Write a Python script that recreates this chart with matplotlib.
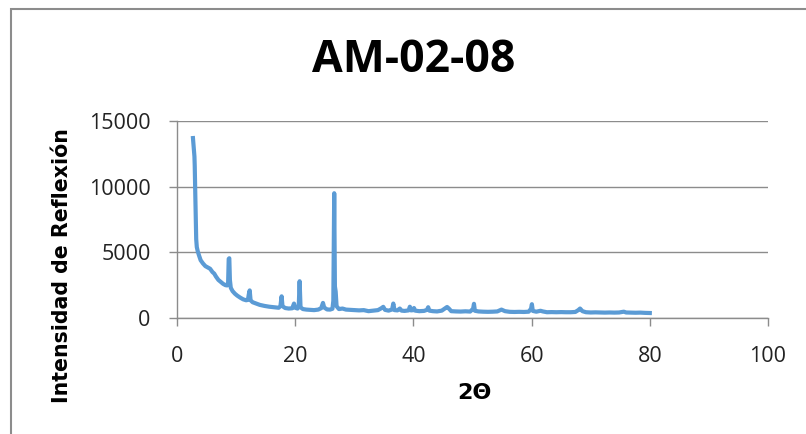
import matplotlib
matplotlib.use("Agg")
import matplotlib.pyplot as plt
from matplotlib.patches import Rectangle

# 2-theta (degrees) and intensity values
two_theta = [2.7, 2.75, 2.85, 2.95, 3.0, 3.05, 3.1, 3.15, 3.2, 3.25, 3.35, 3.5, 3.7, 4.0,
             4.4, 4.8, 5.2, 5.6, 6.0, 6.3, 6.6, 7.0, 7.4, 7.8, 8.2, 8.5, 8.65, 8.75, 8.85,
             8.95, 9.1, 9.4, 9.8, 10.2, 10.7, 11.2, 11.7, 12.0, 12.15, 12.3, 12.45, 12.8,
             13.4, 14.0, 14.8, 15.6, 16.4, 17.2, 17.5, 17.7, 17.85, 18.3, 18.9, 19.5, 19.8,
             20.0, 20.4, 20.6, 20.75, 20.9, 21.3, 21.9, 22.5, 23.2, 23.9, 24.4, 24.7, 24.9,
             25.4, 25.9, 26.3, 26.45, 26.6, 26.72, 26.85, 27.0, 27.4, 28.0, 28.6, 29.3, 30.0,
             30.8, 31.6, 32.4, 33.2, 34.0, 34.6, 34.9, 35.2, 35.8, 36.4, 36.6, 36.8, 37.3,
             37.7, 38.0, 38.5, 39.2, 39.4, 39.6, 40.0, 40.1, 40.3, 41.0, 41.8, 42.3, 42.5,
             42.7, 43.3, 44.0, 44.8, 45.3, 45.7, 46.0, 46.4, 47.2, 48.0, 48.8, 49.6, 50.1,
             50.25, 50.4, 51.0, 51.8, 52.6, 53.4, 54.2, 54.9, 55.5, 56.3, 57.1, 57.9, 58.7,
             59.5, 59.9, 60.05, 60.2, 60.8, 61.5, 61.9, 62.6, 63.4, 64.2, 65.0, 65.8, 66.6,
             67.4, 67.9, 68.2, 68.6, 69.2, 70.0, 70.8, 71.6, 72.4, 73.2, 74.0, 74.8, 75.6,
             76.0, 76.8, 77.6, 78.4, 79.2, 80.0]
intensity = [13700, 13400, 12800, 12300, 11600, 10600, 9300, 8200, 7000, 6000, 5400, 5100,
             4800, 4400, 4150, 3950, 3850, 3750, 3500, 3380, 3150, 2900, 2750, 2600, 2500,
             2480, 2700, 4500, 4550, 2900, 2300, 2050, 1850, 1700, 1550, 1420, 1350, 1380,
             1800, 2100, 1350, 1200, 1100, 1000, 920, 860, 820, 780, 900, 1650, 900, 760,
             720, 740, 1100, 780, 720, 900, 2800, 820, 680, 640, 620, 600, 640, 750, 1150,
             800, 650, 640, 700, 1300, 9500, 2400, 2000, 900, 680, 720, 640, 620, 600, 580,
             600, 520, 560, 600, 750, 850, 620, 560, 650, 1100, 600, 580, 720, 560, 540, 580,
             860, 580, 600, 760, 560, 520, 540, 620, 820, 560, 520, 500, 560, 720, 840, 720,
             520, 500, 490, 510, 490, 700, 1080, 550, 500, 480, 470, 480, 500, 640, 520, 470,
             460, 470, 460, 480, 700, 1050, 540, 480, 550, 500, 440, 450, 440, 450, 440, 440,
             460, 600, 720, 520, 440, 420, 430, 420, 410, 420, 410, 420, 480, 420, 410, 400,
             410, 390, 380]

title = "AM-02-08"
x_label = "2\u0398"
y_label = "Intensidad de Reflexi\u00f3n"
x_ticks = [0, 20, 40, 60, 80, 100]
y_ticks = [0, 5000, 10000, 15000]

W, H = 806, 434
fig = plt.figure(figsize=(W / 100, H / 100), dpi=100)
fig.patch.set_facecolor("white")

# outer chart frame (left/top visible)
fig.patches.append(Rectangle((10.5 / W, -0.1), 1.2, (H - 9.5) / H + 0.1,
                             transform=fig.transFigure, fill=False,
                             edgecolor="#8c8c8c", linewidth=1.5))

ax = fig.add_axes([177 / W, (H - 318) / H, 591 / W, 197 / H])
ax.plot(two_theta, intensity, color="#5B9BD5", linewidth=3.0, solid_joinstyle="round")

ax.set_xlim(0, 100)
ax.set_ylim(0, 15000)
ax.set_xticks(x_ticks)
ax.set_yticks(y_ticks)
ax.set_xticklabels([str(v) for v in x_ticks])
ax.set_yticklabels([str(v) for v in y_ticks])

ax.yaxis.grid(True, color="#8c8c8c", linewidth=1.0)
ax.set_axisbelow(True)
for s in ["top", "right"]:
    ax.spines[s].set_visible(False)
for s in ["left", "bottom"]:
    ax.spines[s].set_color("#8c8c8c")
    ax.spines[s].set_linewidth(1.0)

tick_font = ["Open Sans", "DejaVu Sans"]
ax.tick_params(axis="both", colors="#8c8c8c", length=6, width=1.0, direction="out",
               labelcolor="#222222", labelsize=15.5)
ax.tick_params(axis="y", pad=13)
ax.tick_params(axis="x", pad=14)
for lab in ax.get_xticklabels() + ax.get_yticklabels():
    lab.set_fontfamily(tick_font)

ax.set_xlabel(x_label, fontsize=16, fontweight="bold", family=["DejaVu Sans"])
ax.set_ylabel(y_label, fontsize=14.8, fontweight="bold", family=["DejaVu Sans"])
ax.xaxis.set_label_coords((474 - 177) / 591, (318 - 393) / 197)
ax.xaxis.label.set_va("center")
ax.yaxis.set_label_coords((62 - 177) / 591, (318 - 265.5) / 197)
ax.yaxis.label.set_va("center")

fig.text(414 / W, 1 - 61 / H, title, ha="center", va="center", fontsize=32,
         fontweight="bold", family=["Open Sans", "DejaVu Sans"], color="black")

fig.savefig("out.png", dpi=100, facecolor="white")
